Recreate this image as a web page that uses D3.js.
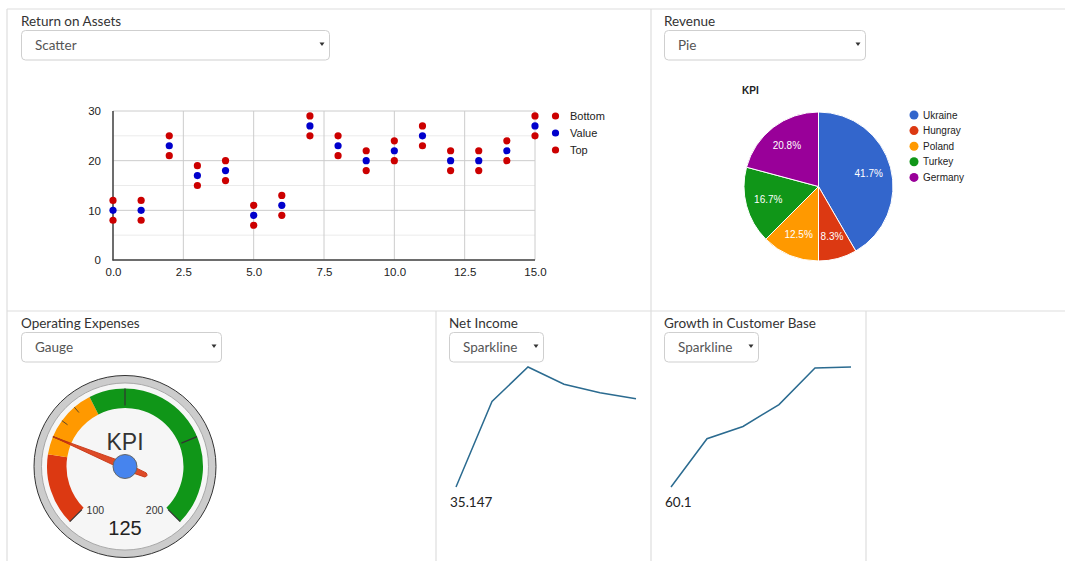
<!DOCTYPE html>
<html lang="en">
<head>
  <meta charset="UTF-8">
  <script src="https://cdn.jsdelivr.net/npm/d3@7/dist/d3.min.js"></script>
  <title>KPI Dashboard</title>
  <style>
    body { margin: 0; background: #fff; }
    svg text { font-family: "Liberation Sans", Arial, sans-serif; }
    .ui { font-family: Lato, "Open Sans", sans-serif; }
  </style>
</head>
<body>
  <svg width="1065" height="561" id="dash"></svg>
  <script>
    /* DATA */
    const scatterX = [0, 1, 2, 3, 4, 5, 6, 7, 8, 9, 10, 11, 12, 13, 14, 15];
    const scatterValue = [10, 10, 23, 17, 18, 9, 11, 27, 23, 20, 22, 25, 20, 20, 22, 27];
    const scatterBottom = [8, 8, 21, 15, 16, 7, 9, 25, 21, 18, 20, 23, 18, 18, 20, 25];
    const scatterTop = [12, 12, 25, 19, 20, 11, 13, 29, 25, 22, 24, 27, 22, 22, 24, 29];
    const scatterXTicks = [0, 2.5, 5, 7.5, 10, 12.5, 15];
    const scatterYTicks = [0, 10, 20, 30];

    const pieCountries = ["Ukraine", "Hungray", "Poland", "Turkey", "Germany"];
    const pieValues = [10, 2, 3, 4, 5];
    const pieColors = ["#3366cc", "#dc3912", "#ff9900", "#109618", "#990099"];

    const gaugeValue = 125;
    const gaugeMin = 100, gaugeMax = 200;
    const gaugeBands = [[100, 120, "#dc3912"], [120, 140, "#ff9900"], [140, 200, "#109618"]];
    const gaugeMajorTicks = [100, 125, 150, 175, 200];
    const gaugeMinorTicks = [130, 135];

    const netIncome = [35.147, 60, 70, 65, 62.5, 60.8];
    const customerGrowth = [60.1, 70, 72.5, 77, 84.5, 84.7];

    let svg = d3.select("#dash");

    /* PANEL BORDERS */
    const border = "#dedede";
    [[7, 9, 1065, 9], [7, 9, 7, 561], [651, 9, 651, 561], [7, 311, 1065, 311],
     [436, 311, 436, 561], [866, 311, 866, 561]].forEach(l => {
      svg.append("line").attr("x1", l[0]).attr("y1", l[1]).attr("x2", l[2]).attr("y2", l[3])
        .attr("stroke", border).attr("stroke-width", 1.2);
    });

    /* TITLES + DROPDOWNS */
    function control(x, top, title, w, label) {
      svg.append("text").attr("class", "ui").attr("x", x).attr("y", top + 17)
        .attr("font-size", 13.5).attr("fill", "#333").text(title);
      svg.append("rect").attr("x", x + 0.5).attr("y", top + 21.5).attr("width", w).attr("height", 29.5)
        .attr("rx", 4).attr("fill", "#fff").attr("stroke", "#cfcfcf");
      svg.append("text").attr("class", "ui").attr("x", x + 14).attr("y", top + 41)
        .attr("font-size", 13.5).attr("fill", "#555").text(label);
      let ax = x + w - 7, ay = top + 35;
      svg.append("path").attr("d", `M${ax - 2.5},${ay - 1.5}L${ax + 2.5},${ay - 1.5}L${ax},${ay + 2}Z`).attr("fill", "#333");
    }
    control(21, 9, "Return on Assets", 308, "Scatter");
    control(664, 9, "Revenue", 201, "Pie");
    control(21, 311, "Operating Expenses", 200, "Gauge");
    control(449, 311, "Net Income", 94, "Sparkline");
    control(664, 311, "Growth in Customer Base", 94, "Sparkline");

    /* SCATTER */
    let sx = d3.scaleLinear().domain([0, 15]).range([113, 535]);
    let sy = d3.scaleLinear().domain([0, 30]).range([260, 111]);
    let sc = svg.append("g");
    [5, 15, 25].forEach(v => sc.append("line").attr("x1", 113).attr("x2", 535)
      .attr("y1", sy(v)).attr("y2", sy(v)).attr("stroke", "#ebebeb"));
    scatterYTicks.forEach(v => sc.append("line").attr("x1", 113).attr("x2", 535)
      .attr("y1", sy(v)).attr("y2", sy(v)).attr("stroke", "#cccccc"));
    scatterXTicks.forEach(v => sc.append("line").attr("x1", sx(v)).attr("x2", sx(v))
      .attr("y1", 111).attr("y2", 260).attr("stroke", "#cccccc"));
    sc.append("line").attr("x1", 113).attr("x2", 113).attr("y1", 111).attr("y2", 260.5).attr("stroke", "#444").attr("stroke-width", 1.5);
    sc.append("line").attr("x1", 112.5).attr("x2", 535).attr("y1", 260).attr("y2", 260).attr("stroke", "#444").attr("stroke-width", 1.5);

    let axX = sc.append("g").attr("transform", "translate(0,260)")
      .call(d3.axisBottom(sx).tickValues(scatterXTicks).tickFormat(d3.format(".1f")).tickSize(0).tickPadding(8));
    let axY = sc.append("g").attr("transform", "translate(113,0)")
      .call(d3.axisLeft(sy).tickValues(scatterYTicks).tickSize(0).tickPadding(12));
    [axX, axY].forEach(a => {
      a.select(".domain").remove();
      a.selectAll("text").attr("font-size", 11.5).attr("fill", "#222").attr("font-family", "Liberation Sans, Arial");
    });

    const series = [["Bottom", scatterBottom, "#cc0000"], ["Value", scatterValue, "#0000cc"], ["Top", scatterTop, "#cc0000"]];
    series.forEach((s, si) => {
      sc.selectAll(".dot" + si).data(scatterX).enter().append("circle")
        .attr("cx", (d, i) => sx(d)).attr("cy", (d, i) => sy(s[1][i])).attr("r", 3.6).attr("fill", s[2]);
      sc.append("circle").attr("cx", 555.5).attr("cy", 116 + si * 17).attr("r", 3.6).attr("fill", s[2]);
      sc.append("text").attr("x", 570).attr("y", 116 + si * 17 + 4).attr("font-size", 11).attr("fill", "#222").text(s[0]);
    });

    /* PIE */
    let pg = svg.append("g").attr("transform", "translate(818.5,186.5)");
    let pie = d3.pie().sort(null)(pieValues);
    let arc = d3.arc().innerRadius(0).outerRadius(74.5);
    let labelArc = d3.arc().innerRadius(52).outerRadius(52);
    let total = d3.sum(pieValues);
    pg.selectAll("path").data(pie).enter().append("path")
      .attr("d", arc).attr("fill", (d, i) => pieColors[i]).attr("stroke", "#fff").attr("stroke-width", 1);
    pg.selectAll(".pl").data(pie).enter().append("text")
      .attr("transform", d => `translate(${labelArc.centroid(d)})`)
      .attr("text-anchor", "middle").attr("dy", "0.35em")
      .attr("font-size", 10).attr("fill", "#fff")
      .text(d => (d.value / total * 100).toFixed(1) + "%");
    svg.append("text").attr("x", 742).attr("y", 94).attr("font-size", 10).attr("font-weight", "bold").attr("fill", "#222").text("KPI");
    pieCountries.forEach((c, i) => {
      svg.append("circle").attr("cx", 914).attr("cy", 115 + i * 15.6).attr("r", 4.5).attr("fill", pieColors[i]);
      svg.append("text").attr("x", 923).attr("y", 115 + i * 15.6 + 3.5).attr("font-size", 10).attr("fill", "#222").text(c);
    });

    /* GAUGE */
    let gg = svg.append("g").attr("transform", "translate(125,466.5)");
    let ga = d3.scaleLinear().domain([gaugeMin, gaugeMax]).range([-135, 135]);
    let rad = v => ga(v) * Math.PI / 180;
    gg.append("circle").attr("r", 91).attr("fill", "#cccccc").attr("stroke", "#333").attr("stroke-width", 1);
    gg.append("circle").attr("r", 83.5).attr("fill", "#f6f6f6").attr("stroke", "#999").attr("stroke-width", 0.8);
    let bandArc = d3.arc().innerRadius(58.5).outerRadius(78);
    gaugeBands.forEach(b => {
      gg.append("path").attr("d", bandArc({ startAngle: rad(b[0]), endAngle: rad(b[1]) })).attr("fill", b[2]);
    });
    function tick(v, r0, r1, w) {
      let a = rad(v);
      gg.append("line").attr("x1", r0 * Math.sin(a)).attr("y1", -r0 * Math.cos(a))
        .attr("x2", r1 * Math.sin(a)).attr("y2", -r1 * Math.cos(a)).attr("stroke", "#333").attr("stroke-width", w);
    }
    gaugeMajorTicks.forEach(v => tick(v, 61, 78, 1.2));
    gaugeMinorTicks.forEach(v => tick(v, 71, 78, 0.8));
    gg.append("text").attr("y", -17).attr("text-anchor", "middle").attr("font-size", 23).attr("fill", "#333").text("KPI");
    [[gaugeMin, -146], [gaugeMax, 146]].forEach(t => {
      let a = t[1] * Math.PI / 180;
      gg.append("text").attr("x", 53 * Math.sin(a)).attr("y", -52 * Math.cos(a) + 4)
        .attr("text-anchor", "middle").attr("font-size", 10.5).attr("fill", "#333").text(t[0]);
    });
    gg.append("text").attr("y", 68).attr("text-anchor", "middle").attr("font-size", 20).attr("fill", "#222").text(gaugeValue);
    gg.append("path")
      .attr("d", "M0,-78L3.6,0L2.2,22Q0,25.5 -2.2,22L-3.6,0Z")
      .attr("transform", `rotate(${ga(gaugeValue)})`)
      .attr("fill", "#dc3912").attr("fill-opacity", 0.9).attr("stroke", "#c63310").attr("stroke-width", 0.8);
    gg.append("circle").attr("r", 12).attr("fill", "#4684ee").attr("stroke", "#666").attr("stroke-width", 1);

    /* SPARKLINES */
    function sparkline(x0, values) {
      let x = d3.scaleLinear().domain([0, values.length - 1]).range([x0, x0 + 180]);
      let y = d3.scaleLinear().domain(d3.extent(values)).range([487, 367]);
      let line = d3.line().x((d, i) => x(i)).y(d => y(d));
      svg.append("path").datum(values).attr("d", line)
        .attr("fill", "none").attr("stroke", "#2b6b90").attr("stroke-width", 1.5);
      svg.append("text").attr("class", "ui").attr("x", x0 - 6).attr("y", 506.5)
        .attr("font-size", 13.5).attr("fill", "#222").text(d3.min(values));
    }
    sparkline(456, netIncome);
    sparkline(671, customerGrowth);
  </script>
</body>
</html>
